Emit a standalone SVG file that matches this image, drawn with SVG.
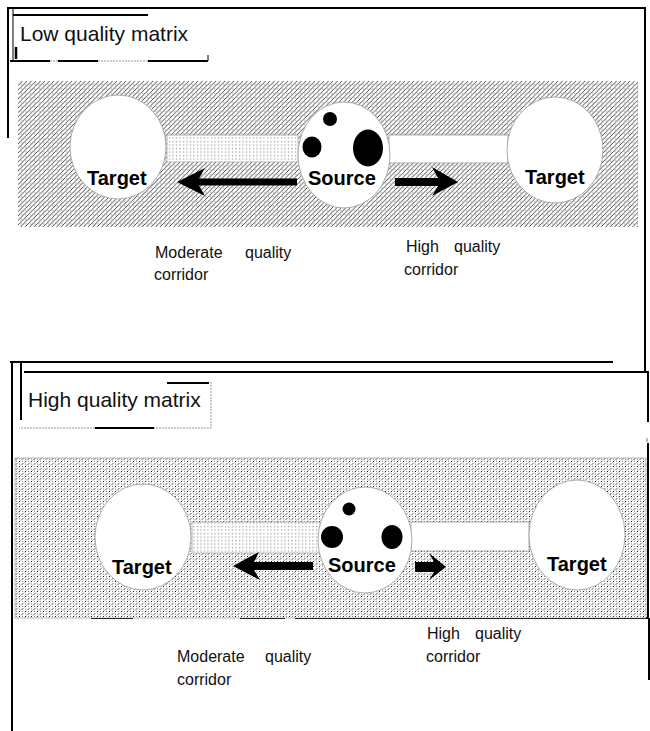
<svg xmlns="http://www.w3.org/2000/svg" width="650" height="731" viewBox="0 0 650 731">
<defs>
  <pattern id="hatch" width="4.5" height="4.5" patternUnits="userSpaceOnUse">
    <rect width="4.5" height="4.5" fill="#fff"/>
    <path d="M-1,1 L1,-1 M0,4.5 L4.5,0 M3.5,5.5 L5.5,3.5" stroke="#111" stroke-width="0.75"/>
    <circle cx="3.4" cy="3.4" r="0.55" fill="#666"/>
  </pattern>
  <pattern id="stipple" width="6" height="5" patternUnits="userSpaceOnUse">
    <rect width="6" height="5" fill="#fff"/>
    <path d="M0.8,2.2 L2.2,0.8 M3.8,4.7 L5.2,3.3" stroke="#111" stroke-width="1"/>
    <circle cx="4.6" cy="1.2" r="0.5" fill="#444"/>
    <circle cx="1.6" cy="4" r="0.5" fill="#444"/>
  </pattern>
  <pattern id="dots" width="3.5" height="3.5" patternUnits="userSpaceOnUse">
    <rect width="3.5" height="3.5" fill="#fff"/>
    <rect x="1" y="0.8" width="1" height="1.5" fill="#999"/>
  </pattern>
  <style>
    .frame{stroke:#000;stroke-width:2;fill:none}
    .thin{stroke:#000;stroke-width:1;fill:none}
    .faint{stroke:#999;stroke-width:1;fill:none;stroke-dasharray:2 1}
    .patch{fill:#fff;stroke:#999;stroke-width:0.8}
    .dot{fill:#000}
    .title{font-family:"Liberation Sans",Arial,sans-serif;font-size:21px;fill:#111}
    .node{font-family:"Liberation Sans",Arial,sans-serif;font-size:20px;font-weight:bold;fill:#000}
    .lab{font-family:"Liberation Sans",Arial,sans-serif;font-size:16px;fill:#111}
    .arrow{fill:#000}
  </style>
</defs>
<rect width="650" height="731" fill="#fff"/>

<!-- frame lines -->
<g id="frames">
  <path class="frame" d="M8,138 V8 H645 V372"/>
  <path class="thin" d="M13,8 V60"/>
  <path class="frame" d="M13,15 H148"/>
  <path class="frame" d="M10,61 H50 M58,61 H98 M148,61 H208"/>
  <path class="faint" d="M50,61 H58 M98,61 H148"/>
  <path class="thin" d="M208,55 V61"/>
  <path d="M16,47 V59" stroke="#000" stroke-width="2.5"/>

  <path class="frame" d="M10,362 H613"/>
  <path class="frame" d="M12,362 V731"/>
  <path class="frame" d="M21,362 V420"/>
  <path class="frame" d="M24,372 H648 V422"/>
  <path class="frame" d="M167,383 H209"/>
  <path class="faint" d="M211,382 V428 H154 M95,428 H19"/>
  <path class="frame" d="M95,428 H154"/>
  <path d="M647,438 V442" stroke="#777" stroke-width="1"/>
  <path class="frame" d="M648,443 V618 M649,618 V680"/>
  <path class="frame" d="M91,618 H133 M240,618 H285 M295,618 H648"/>
</g>

<!-- backgrounds -->
<rect id="low-matrix" x="18" y="81" width="620" height="146" fill="url(#hatch)"/>
<rect id="high-matrix" x="15" y="458" width="631" height="160" fill="url(#stipple)" stroke="#888" stroke-width="0.6"/>

<text class="title" x="20" y="41">Low quality matrix</text>
<text class="title" x="28" y="407">High quality matrix</text>

<!-- top panel nodes -->
<g id="top-moderate-corridor"><rect x="167" y="135" width="131" height="27" fill="url(#dots)" stroke="#aaa" stroke-width="0.8"/></g>
<g id="top-high-corridor"><rect class="patch" x="389" y="135" width="119" height="28"/></g>
<g id="top-target-left">
  <ellipse class="patch" cx="118" cy="147" rx="48" ry="52"/>
  <text class="node" x="87" y="185">Target</text>
</g>
<g id="top-source">
  <ellipse class="patch" cx="344" cy="155" rx="46" ry="53"/>
  <circle class="dot" cx="330" cy="119" r="7"/>
  <ellipse class="dot" cx="312" cy="147" rx="9.5" ry="10.5"/>
  <ellipse class="dot" cx="368" cy="148" rx="15" ry="18.5"/>
  <text class="node" x="308" y="185">Source</text>
</g>
<g id="top-target-right">
  <ellipse class="patch" cx="555" cy="150" rx="48" ry="53"/>
  <text class="node" x="525" y="184">Target</text>
</g>

<!-- bottom panel nodes -->
<g id="bottom-moderate-corridor"><rect x="192" y="522" width="128" height="31" fill="url(#dots)" stroke="#aaa" stroke-width="0.8"/></g>
<g id="bottom-high-corridor"><rect class="patch" x="411" y="522" width="118" height="29"/></g>
<g id="bottom-target-left">
  <ellipse class="patch" cx="143" cy="537" rx="48" ry="53"/>
  <text class="node" x="112" y="574">Target</text>
</g>
<g id="bottom-source">
  <ellipse class="patch" cx="365" cy="540" rx="47" ry="53"/>
  <circle class="dot" cx="349" cy="509" r="6.5"/>
  <circle class="dot" cx="332" cy="537" r="11"/>
  <ellipse class="dot" cx="392" cy="537" rx="10.5" ry="12"/>
  <text class="node" x="328" y="572">Source</text>
</g>
<g id="bottom-target-right">
  <ellipse class="patch" cx="577" cy="535" rx="48" ry="55"/>
  <text class="node" x="547" y="571">Target</text>
</g>

<!-- connectors -->
<g id="connectors">
  <polygon class="arrow" points="177,182 205,168 199,178.5 297,178.5 297,185.5 199,185.5 205,196"/>
  <polygon class="arrow" points="395,178 438,178 432,167 458,182 432,196 438,186 395,186"/>
  <polygon class="arrow" points="233,566 259,552 254,562 313,562 313,570 254,570 260,580"/>
  <polygon class="arrow" points="415,562 434,562 429,553 446,567 429,580 434,572 415,572"/>
</g>

<!-- labels -->
<g id="labels">
  <text class="lab" y="258"><tspan x="155">Moderate</tspan><tspan x="245">quality</tspan></text>
  <text class="lab" x="154" y="280">corridor</text>
  <text class="lab" y="252"><tspan x="406">High</tspan><tspan x="454">quality</tspan></text>
  <text class="lab" x="404" y="275">corridor</text>
  <text class="lab" y="662"><tspan x="177">Moderate</tspan><tspan x="265">quality</tspan></text>
  <text class="lab" x="177" y="685">corridor</text>
  <text class="lab" y="639"><tspan x="427">High</tspan><tspan x="475">quality</tspan></text>
  <text class="lab" x="426" y="662">corridor</text>
</g>
</svg>
